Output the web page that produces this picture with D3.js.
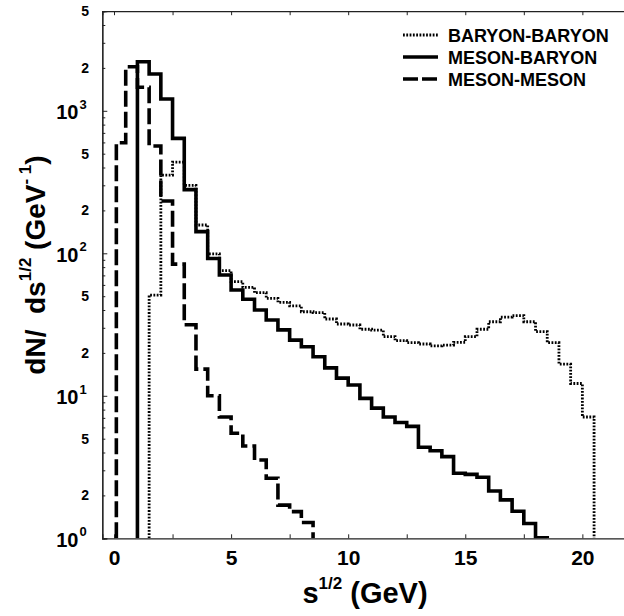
<!DOCTYPE html>
<html>
<head>
<meta charset="utf-8">
<script src="https://cdn.jsdelivr.net/npm/d3@7"></script>
<style>
  html, body { margin: 0; padding: 0; background: #fff; }
  svg { display: block; font-family: "Liberation Sans", Arial, sans-serif; font-weight: bold; }
</style>
</head>
<body>
<div id="chart"></div>
<script>
// bin width of all histograms (GeV)
var binWidth = 0.5;

// MESON-MESON, first bin starts at threshold
var mmStart = 0.1;
var mmValues = [597, 2040, 1462, 566, 233, 84, 31.5, 15.4, 10.0, 7.1, 5.46, 4.44, 3.54, 2.64, 1.71, 1.54, 1.29];

// MESON-BARYON
var mbStart = 1.0;
var mbValues = [2210, 1812, 1211, 641, 280, 142, 92, 70.4, 55.3, 47.6, 40.0, 34.0, 29.0, 24.6, 22.1, 18.8,
    15.7, 13.3, 11.9, 9.6, 8.2, 7.1, 6.5, 6.1, 4.35, 4.12, 3.74, 2.86, 2.81, 2.68, 2.15, 1.86, 1.55, 1.27, 1.01];

// BARYON-BARYON
var bbStart = 1.5;
var bbValues = [50.9, 354, 437, 300, 158, 99, 75.5, 63.2, 57.7, 52.9, 48.3, 45.3, 42.7, 38.9, 38.3, 34.6,
    31.9, 31.4, 29.3, 28.9, 26.0, 24.4, 23.6, 23.1, 22.4, 22.7, 23.7, 26.0, 29.3, 33.1, 35.6, 36.5, 33.1,
    28.2, 23.6, 16.7, 12.2, 7.1];

var xTicks = [0, 2.5, 5, 7.5, 10, 12.5, 15, 17.5, 20];
var xTickLabels = [0, 5, 10, 15, 20];
var yDecades = [1, 10, 100, 1000];
var yLabelTicks = [2, 5, 20, 50, 200, 500, 2000, 5000];
var yMinorTicks = [2, 3, 4, 5, 6, 7, 8, 9, 20, 30, 40, 50, 60, 70, 80, 90, 200, 300, 400, 500, 600, 700, 800, 900, 2000, 3000, 4000, 5000];

var legendNames = ['BARYON-BARYON', 'MESON-BARYON', 'MESON-MESON'];

var svg_dx = 624, svg_dy = 616;
var xScale = d3.scaleLinear().domain([-0.5, 22]).range([102.3, 629.2]);
var yScale = d3.scaleLog().domain([1, 5000]).range([538.3, 11.2]);

var svg = d3.select('#chart').append('svg')
    .attr('width', svg_dx)
    .attr('height', svg_dy);

svg.append('clipPath').attr('id', 'plotclip')
    .append('rect')
    .attr('x', xScale(-0.5)).attr('y', yScale(5000))
    .attr('width', xScale(22) - xScale(-0.5))
    .attr('height', yScale(1) - yScale(5000));

// build the step outline of one histogram, dropping to the axis at both ends
function stepPoints (start, values, first) {
    var pts = [], i, lo, hi;
    for (i = 0; i < values.length; i++) {
        lo = (i === 0) ? first : start + i * binWidth;
        hi = start + (i + 1) * binWidth;
        if (i === 0) { pts.push([lo, 1]); }
        pts.push([lo, values[i]]);
        pts.push([hi, values[i]]);
    }
    pts.push([start + values.length * binWidth, 1]);
    return pts;
}

var line = d3.line()
    .x(function (d) { return xScale(d[0]); })
    .y(function (d) { return yScale(d[1]); });

var series = [
    { name: legendNames[0], pts: stepPoints(bbStart, bbValues, bbStart), width: 2.8, dash: '1.8,1.5' },
    { name: legendNames[1], pts: stepPoints(mbStart, mbValues, mbStart), width: 3.6, dash: null },
    { name: legendNames[2], pts: stepPoints(0, mmValues, mmStart), width: 3.6, dash: '16,5' }
];

var plot = svg.append('g').attr('clip-path', 'url(#plotclip)');
series.forEach(function (s) {
    plot.append('path')
        .attr('d', line(s.pts))
        .attr('fill', 'none')
        .attr('stroke', '#000')
        .attr('stroke-width', s.width)
        .attr('stroke-dasharray', s.dash)
        .attr('stroke-linejoin', 'miter');
});

// axes
var axisColor = '#222';

var xBottom = svg.append('g')
    .attr('transform', 'translate(0,' + yScale(1) + ')')
    .call(d3.axisBottom(xScale).tickValues(xTicks).tickSize(-4).tickPadding(12)
        .tickFormat(function (d) { return xTickLabels.indexOf(d) >= 0 ? d : ''; }));

var xTop = svg.append('g')
    .attr('transform', 'translate(0,' + yScale(5000) + ')')
    .call(d3.axisTop(xScale).tickValues(xTicks).tickSize(-4).tickFormat(''));

var yLeftMajor = svg.append('g')
    .attr('transform', 'translate(' + xScale(-0.5) + ',0)')
    .call(d3.axisLeft(yScale).tickValues(yDecades).tickSize(-5).tickFormat(''));

var yLeftMinor = svg.append('g')
    .attr('transform', 'translate(' + xScale(-0.5) + ',0)')
    .call(d3.axisLeft(yScale).tickValues(yMinorTicks).tickSize(-3).tickFormat(''));

[xBottom, xTop, yLeftMajor, yLeftMinor].forEach(function (g) {
    g.selectAll('path.domain').attr('stroke', axisColor).attr('stroke-width', 1.2);
    g.selectAll('.tick line').attr('stroke', axisColor).attr('stroke-width', 1);
});

xBottom.selectAll('.tick text')
    .attr('font-family', '"Liberation Sans", Arial, sans-serif')
    .attr('font-weight', 'bold')
    .attr('font-size', 21)
    .attr('fill', '#000');

// y tick labels: 2 and 5 small, decades as 10^n
yLabelTicks.forEach(function (v) {
    svg.append('text')
        .attr('x', 89)
        .attr('y', yScale(v) + 5)
        .attr('text-anchor', 'end')
        .attr('font-size', 14)
        .text(String(v).charAt(0));
});

yDecades.forEach(function (v) {
    var ty = yScale(v);
    svg.append('text')
        .attr('x', 78.5).attr('y', ty + 8.5)
        .attr('text-anchor', 'end')
        .attr('font-size', 20)
        .text('10');
    svg.append('text')
        .attr('x', 79.5).attr('y', ty - 2)
        .attr('font-size', 13)
        .text(Math.round(Math.log10(v)));
});

// axis titles
var xt = svg.append('text')
    .attr('x', 365).attr('y', 603)
    .attr('text-anchor', 'middle')
    .attr('font-size', 29);
xt.append('tspan').text('s');
xt.append('tspan').attr('font-size', 17).attr('dy', -14).text('1/2');
xt.append('tspan').attr('dy', 14).text(' (GeV)');

var yt = svg.append('text')
    .attr('transform', 'translate(45,265) rotate(-90)')
    .attr('text-anchor', 'middle')
    .attr('font-size', 28);
yt.append('tspan').text('dN/\u00a0\u00a0ds');
yt.append('tspan').attr('font-size', 17).attr('dy', -14).text('1/2');
yt.append('tspan').attr('dy', 14).text(' (GeV');
yt.append('tspan').attr('font-size', 17).attr('dy', -14).text('-\u00a01');
yt.append('tspan').attr('dy', 14).text(')');

// legend
var legend = svg.append('g');
series.forEach(function (s, i) {
    var ly = 35 + i * 22;
    legend.append('line')
        .attr('x1', 403).attr('x2', 438)
        .attr('y1', ly).attr('y2', ly)
        .attr('stroke', '#000')
        .attr('stroke-width', s.width)
        .attr('stroke-dasharray', s.dash ? (i === 2 ? '15,4' : s.dash) : null);
    legend.append('text')
        .attr('x', 448).attr('y', ly + 6.5)
        .attr('font-size', 18)
        .text(s.name);
});
</script>
</body>
</html>
